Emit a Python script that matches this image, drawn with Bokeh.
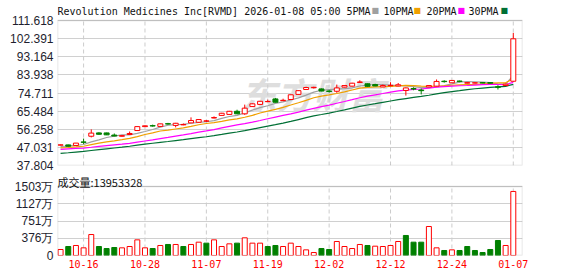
import numpy as np
from bokeh.plotting import figure
from bokeh.models import Range1d, FixedTicker, Label, PrintfTickFormatter, BoxAnnotation
from bokeh.layouts import column
from bokeh.embed import file_html
from bokeh.resources import INLINE

# ---------------- data ----------------
title_text = "Revolution Medicines Inc[RVMD] 2026-01-08 05:00"
ma_names = ["5PMA", "10PMA", "20PMA", "30PMA"]
ma_periods = [5, 10, 20, 30]
ma_colors = ["#a0a0a0", "#f0a000", "#ff00ff", "#006f35"]

dates = ["10-13", "10-14", "10-15", "10-16", "10-17", "10-20", "10-21", "10-22", "10-23", "10-24",
         "10-27", "10-28", "10-29", "10-30", "10-31", "11-03", "11-04", "11-05", "11-06", "11-07",
         "11-10", "11-11", "11-12", "11-13", "11-14", "11-17", "11-18", "11-19", "11-20", "11-21",
         "11-24", "11-25", "11-26", "11-28", "12-01", "12-02", "12-03", "12-04", "12-05", "12-08",
         "12-09", "12-10", "12-11", "12-12", "12-15", "12-16", "12-17", "12-18", "12-19", "12-22",
         "12-23", "12-24", "12-26", "12-29", "12-30", "12-31", "01-02", "01-05", "01-06", "01-07"]
date_labels = ["10-16", "10-28", "11-07", "11-19", "12-02", "12-12", "12-24", "01-07"]

# closes before the visible window (used only for the moving averages)
prior_close = [38.5, 39.2, 40.1, 39.8, 40.6, 41.0, 40.3, 39.9, 40.2, 40.4,
               42.8, 44.1, 45.6, 46.3, 45.0, 44.7, 45.9, 46.2, 45.8, 45.6,
               45.9, 46.4, 46.0, 46.2, 46.0, 46.8, 47.5, 47.2, 47.7]

open_ = [48.2, 48.3, 48.0, 49.8, 52.7, 54.4, 54.4, 53.3, 52.7, 53.6,
         55.6, 57.6, 58.1, 57.7, 59.1, 58.2, 58.5, 59.5, 59.8, 60.4,
         62.0, 63.3, 63.8, 65.4, 64.1, 67.8, 68.9, 70.3, 71.7, 70.8,
         71.4, 74.0, 76.5, 77.4, 76.8, 75.7, 75.6, 77.7, 78.2, 80.1,
         79.4, 79.0, 77.8, 78.4, 78.3, 76.0, 77.0, 76.2, 77.8, 78.2,
         80.7, 79.9, 80.8, 79.7, 79.8, 80.0, 80.0, 77.9, 78.5, 80.7]
high = [48.4, 48.4, 49.3, 51.5, 56.2, 54.7, 54.5, 54.1, 53.2, 55.1,
        57.8, 58.2, 58.6, 59.1, 59.5, 59.5, 59.2, 62.3, 61.4, 61.0,
        62.8, 64.6, 65.6, 66.2, 68.8, 69.4, 70.7, 71.3, 72.2, 71.8,
        73.9, 76.0, 77.9, 77.9, 77.0, 76.3, 79.0, 78.6, 79.9, 81.2,
        79.5, 79.4, 79.0, 80.2, 79.8, 77.5, 77.6, 77.0, 78.6, 81.6,
        81.2, 81.3, 81.0, 80.3, 80.1, 80.2, 80.2, 78.7, 79.4, 105.3]
low = [48.1, 47.5, 47.9, 48.8, 52.1, 53.5, 53.3, 52.7, 52.5, 53.5,
       55.5, 57.5, 57.6, 57.5, 58.6, 57.2, 58.3, 59.4, 59.6, 60.0,
       61.8, 63.2, 63.7, 64.0, 63.6, 67.6, 68.8, 70.1, 69.9, 70.6,
       71.3, 73.9, 76.4, 77.0, 75.6, 74.9, 74.8, 77.6, 78.1, 79.8,
       78.0, 78.2, 77.7, 78.2, 78.2, 73.4, 76.1, 74.0, 77.7, 78.1,
       80.0, 79.8, 80.2, 79.6, 79.6, 79.7, 79.6, 76.5, 78.4, 80.5]
close = [48.3, 47.6, 49.2, 49.6, 54.3, 53.7, 53.4, 52.8, 53.0, 54.1,
         57.6, 58.0, 57.9, 59.0, 58.9, 59.3, 58.7, 60.7, 61.2, 60.5,
         62.2, 64.4, 65.4, 64.1, 67.0, 69.2, 70.5, 70.4, 70.0, 71.0,
         73.8, 75.9, 77.5, 77.6, 75.7, 75.5, 77.3, 78.5, 79.7, 80.3,
         78.1, 78.3, 78.5, 78.6, 78.9, 77.3, 76.7, 75.9, 78.5, 80.6,
         80.5, 81.1, 80.6, 80.0, 79.9, 79.8, 79.7, 77.6, 79.2, 102.3]
# volume in 万 shares
volume = [131, 196, 218, 167, 457, 196, 152, 174, 167, 196,
          341, 167, 152, 218, 240, 240, 196, 240, 290, 269,
          341, 196, 254, 269, 385, 269, 269, 196, 218, 196,
          269, 196, 123, 65, 152, 131, 305, 196, 152, 240,
          218, 203, 196, 218, 305, 436, 290, 290, 632, 167,
          109, 123, 109, 196, 109, 65, 131, 327, 218, 1395.3328]

price_tick_labels = ["37.804", "47.031", "56.258", "65.484", "74.711",
                     "83.938", "93.164", "102.391", "111.618"]
vol_ticks = [0, 376, 751, 1127, 1503]
vol_tick_labels = ["0", "376万", "751万", "1127万", "1503万"]
vol_title = "成交量:13953328"

# ---------------- derived ----------------
RED = "#ff0000"
GREEN = "#008000"
BORDER = "#999999"
GRID = "#d0d0d0"
W = 578
LEFT, RIGHT = 57, 56
n = len(close)
idx = np.arange(n)
o = np.array(open_); c = np.array(close); h = np.array(high); l = np.array(low)
allc = np.array(prior_close + close)
k0 = len(prior_close)
mas = [np.array([allc[k0 + i - per + 1:k0 + i + 1].mean() for i in range(n)]) for per in ma_periods]

up = c >= o
cand_col = [RED if u else GREEN for u in up]
cand_fill = ["#ffffff" if u else GREEN for u in up]
prev = np.array([prior_close[-1]] + close[:-1])
vup = c >= prev
vol_col = [RED if u else GREEN for u in vup]
vol_fill = ["#ffffff" if u else GREEN for u in vup]

label_idx = [dates.index(d) for d in date_labels]
price_ticks = [float(s) for s in price_tick_labels]
plo, phi = price_ticks[0], price_ticks[-1]
vlo, vhi = 0, vol_ticks[-1]

X0, X1 = -0.4, 60.2
xr = Range1d(X0, X1)

# price frame: 165 px tall, the chart box occupies the lower 145 px,
# the top 20 px hold the title line; volume frame 82 px, box 69 px
P_FRAME, P_BOX = 165, 145
V_FRAME, V_BOX = 82, 69
p_top = phi + (phi - plo) * (P_FRAME - P_BOX) / P_BOX
v_top = vhi + (vhi - vlo) * (V_FRAME - V_BOX) / V_BOX


def style_yaxis(ax):
    ax.major_label_text_font = "Liberation Sans"
    ax.major_label_text_font_size = "12px"
    ax.major_label_text_color = "#1e1e2e"
    ax.axis_line_color = None
    ax.major_tick_out = 0
    ax.major_tick_in = 0
    ax.minor_tick_line_color = None
    ax.major_label_standoff = 4


# ---------------- price panel ----------------
p = figure(width=W, height=173, x_range=xr, y_range=Range1d(plo, p_top),
           output_backend="svg", toolbar_location=None, tools="", title=None,
           x_axis_location=None,
           min_border_left=LEFT, min_border_right=RIGHT, min_border_top=0, min_border_bottom=8)
p.background_fill_color = "white"
p.border_fill_color = "white"
p.outline_line_color = None
p.xgrid.visible = False

ya = p.yaxis[0]
ya.ticker = FixedTicker(ticks=price_ticks)
ya.formatter = PrintfTickFormatter(format="%.3f")
style_yaxis(ya)
p.ygrid.ticker = FixedTicker(ticks=price_ticks)
p.ygrid.grid_line_color = GRID

# watermark
p.add_layout(Label(x=183, y=73, x_units="screen", y_units="screen", text="东方财富",
                   text_font="Noto Sans CJK SC", text_font_size="36px", text_font_style="bold italic",
                   text_color="#dedede", text_baseline="middle", level="underlay"))

# dashed date gridlines inside the chart box
p.segment(x0=label_idx, y0=[plo] * len(label_idx), x1=label_idx, y1=[phi] * len(label_idx),
          line_color="#cccccc", line_dash="4 3", line_width=1)
p.add_layout(BoxAnnotation(left=X0, right=X1, bottom=plo, top=phi, fill_color=None,
                           line_color=BORDER, line_width=1.5))

for ma, col in zip(mas, ma_colors):
    p.line(idx, ma, line_color=col, line_width=1.2)

p.segment(x0=idx, y0=l, x1=idx, y1=h, line_color=cand_col, line_width=1)
p.vbar(x=idx, top=np.maximum(o, c), bottom=np.minimum(o, c), width=0.65,
       fill_color=cand_fill, line_color=cand_col, line_width=1)

# title + legend (screen units from the frame's lower-left corner)
title_font = "DejaVu Sans Mono"
text_x = [0, 326, 369, 411]
square_x = [314, 356, 400, 443]
texts = [title_text + " " + ma_names[0]] + ma_names[1:]
for tx, s in zip(text_x, texts):
    p.add_layout(Label(x=tx, y=154, x_units="screen", y_units="screen", text=s,
                       text_font=title_font, text_font_size="10px",
                       text_color="#111111", text_baseline="alphabetic"))
for sx, col in zip(square_x, ma_colors):
    p.add_layout(Label(x=sx, y=155, x_units="screen", y_units="screen", text="■",
                       text_font="DejaVu Sans", text_font_size="8px",
                       text_color=col, text_baseline="alphabetic"))

# ---------------- volume panel ----------------
v = figure(width=W, height=103, x_range=xr, y_range=Range1d(vlo, v_top),
           output_backend="svg", toolbar_location=None, tools="", title=None,
           min_border_left=LEFT, min_border_right=RIGHT, min_border_top=0, min_border_bottom=21)
v.background_fill_color = "white"
v.border_fill_color = "white"
v.outline_line_color = None
v.xgrid.visible = False

vy = v.yaxis[0]
vy.ticker = FixedTicker(ticks=vol_ticks)
vy.major_label_overrides = {tk: s for tk, s in zip(vol_ticks, vol_tick_labels)}
style_yaxis(vy)
v.ygrid.ticker = FixedTicker(ticks=vol_ticks)
v.ygrid.grid_line_color = GRID

vx = v.xaxis[0]
vx.ticker = FixedTicker(ticks=label_idx)
vx.major_label_overrides = {i: dates[i] for i in label_idx}
vx.major_label_text_font = title_font
vx.major_label_text_font_size = "10px"
vx.major_label_text_color = RED
vx.axis_line_color = None
vx.major_tick_out = 0
vx.major_tick_in = 0
vx.minor_tick_line_color = None
vx.major_label_standoff = 4

v.segment(x0=label_idx, y0=[vlo] * len(label_idx), x1=label_idx, y1=[vhi] * len(label_idx),
          line_color="#cccccc", line_dash="4 3", line_width=1)
v.add_layout(BoxAnnotation(left=X0, right=X1, bottom=vlo, top=vhi, fill_color=None,
                           line_color=BORDER, line_width=1.5))

v.vbar(x=idx, top=volume, bottom=0, width=0.65, fill_color=vol_fill,
       line_color=vol_col, line_width=1)

v.add_layout(Label(x=0, y=74, x_units="screen", y_units="screen", text=vol_title,
                   text_font="Noto Sans CJK SC", text_font_size="11px", text_color="#111111",
                   text_baseline="alphabetic"))

layout = column(p, v, spacing=0)
open("out.html", "w").write(file_html(layout, INLINE))
